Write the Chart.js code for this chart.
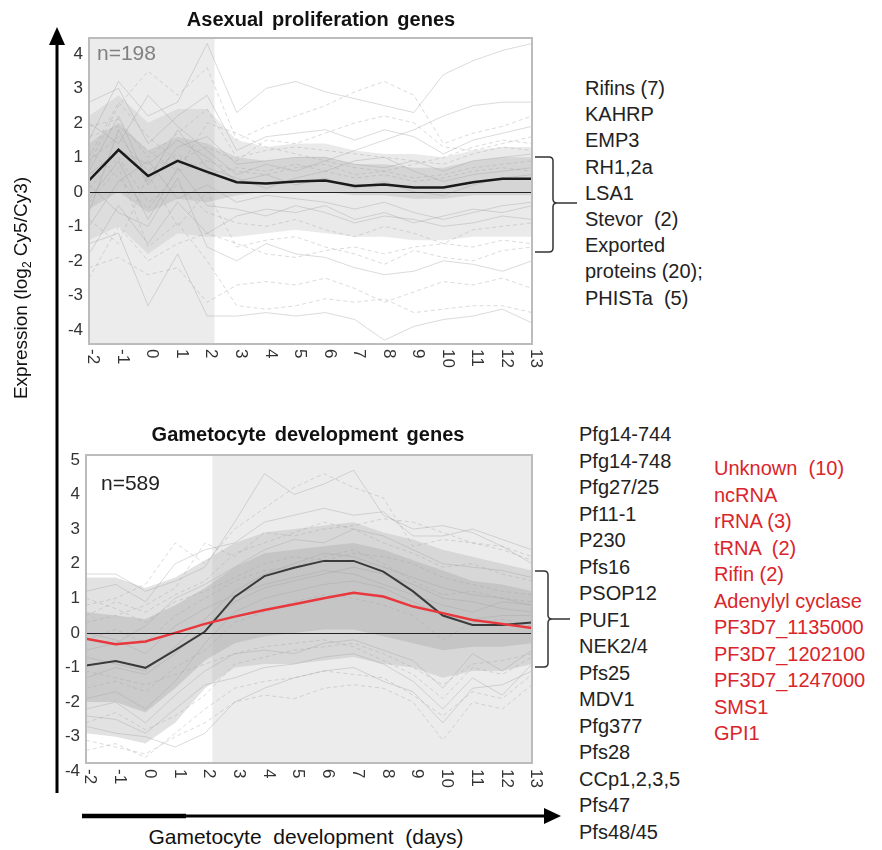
<!DOCTYPE html>
<html>
<head>
<meta charset="utf-8">
<script src="https://cdn.jsdelivr.net/npm/chart.js@4.4.0/dist/chart.umd.min.js"></script>
<style>
  body { margin: 0; background: #fff; font-family: "Liberation Sans", Arial, sans-serif; }
  #page { position: relative; width: 882px; height: 850px; overflow: hidden; }
  .wrap { position: absolute; }
  .title { position: absolute; font-weight: bold; font-size: 20px; color: #111; white-space: pre; word-spacing: 3px; transform: translateX(-50%); }
  .count { position: absolute; font-size: 21px; }
  .list { position: absolute; font-size: 20px; color: #222; white-space: pre; }
  #ylab { position: absolute; left: 22px; top: 288px; font-size: 19px; color: #111; white-space: nowrap; transform: translate(-50%, -50%) rotate(-90deg); }
  #xlab { position: absolute; left: 306px; top: 825px; font-size: 21px; color: #111; white-space: pre; transform: translateX(-50%); }
  sub { font-size: 12px; }
  svg { position: absolute; left: 0; top: 0; }
</style>
</head>
<body>
<div id="page">
  <div class="wrap" style="left:0;top:0;width:560px;height:400px"><canvas id="asexualChart"></canvas></div>
  <div class="wrap" style="left:0;top:400px;width:560px;height:420px"><canvas id="gametocyteChart"></canvas></div>

  <div class="title" style="left:321px;top:8px">Asexual proliferation genes</div>
  <div class="title" style="left:308px;top:423px">Gametocyte development genes</div>
  <div class="count" style="left:97px;top:41px;color:#808080">n=198</div>
  <div class="count" style="left:101px;top:471px;color:#222">n=589</div>

  <div id="ylab">Expression (log<sub>2</sub> Cy5/Cy3)</div>
  <div id="xlab">Gametocyte  development  (days)</div>

  <div class="list" id="asexualList" style="left:585px;top:75px;line-height:26.2px"></div>
  <div class="list" id="gametoList" style="left:579px;top:421px;line-height:26.5px"></div>
  <div class="list" id="redList" style="left:714px;top:455px;line-height:26.5px;color:#d9252b"></div>

  <svg width="882" height="850">
    <!-- axis arrows -->
    <line x1="57" y1="40" x2="57" y2="793" stroke="#000" stroke-width="3"/>
    <polygon points="57,27 49,45 65,45" fill="#000"/>
    <line x1="82" y1="816" x2="186" y2="816" stroke="#000" stroke-width="4.5"/>
    <line x1="186" y1="816" x2="548" y2="816" stroke="#000" stroke-width="3"/>
    <polygon points="561,816 544,808 544,824" fill="#000"/>
    <!-- braces -->
    <path d="M535,157 L549,157 Q553,157 553,161 L553,199 Q553,203 557,203 L577,203 M557,203 Q553,203 553,207 L553,248 Q553,252 549,252 L535,252"
          fill="none" stroke="#333" stroke-width="1.5"/>
    <path d="M535,571 L544,571 Q548,571 548,575 L548,615 Q548,619 552,619 L570,619 M552,619 Q548,619 548,623 L548,663 Q548,667 544,667 L535,667"
          fill="none" stroke="#333" stroke-width="1.5"/>
  </svg>
</div>

<script>
// ---------- data ----------
const days = [-2, -1, 0, 1, 2, 3, 4, 5, 6, 7, 8, 9, 10, 11, 12, 13];
const dayLabels = ['-2', '-1', '0', '1', '2', '3', '4', '5', '6', '7', '8', '9', '10', '11', '12', '13'];
const asexualTicks = [-4, -3, -2, -1, 0, 1, 2, 3, 4];
const gametoTicks = [-4, -3, -2, -1, 0, 1, 2, 3, 4, 5];

const asexualGenes = ['Rifins (7)', 'KAHRP', 'EMP3', 'RH1,2a', 'LSA1', 'Stevor  (2)', 'Exported', 'proteins (20);', 'PHISTa  (5)'];
const gametoGenes = ['Pfg14-744', 'Pfg14-748', 'Pfg27/25', 'Pf11-1', 'P230', 'Pfs16', 'PSOP12', 'PUF1', 'NEK2/4',
  'Pfs25', 'MDV1', 'Pfg377', 'Pfs28', 'CCp1,2,3,5', 'Pfs47', 'Pfs48/45'];
const otherGenes = ['Unknown  (10)', 'ncRNA', 'rRNA (3)', 'tRNA  (2)', 'Rifin (2)', 'Adenylyl cyclase',
  'PF3D7_1135000', 'PF3D7_1202100', 'PF3D7_1247000', 'SMS1', 'GPI1'];

// asexual cluster: average profile, spread of the bulk, and individual genes
const asexualMean = [0.33, 1.22, 0.46, 0.9, 0.58, 0.28, 0.24, 0.3, 0.33, 0.17, 0.21, 0.13, 0.13, 0.28, 0.38, 0.38];
const asexualOuterHi = [2.2, 2.8, 2.0, 2.4, 2.4, 1.5, 1.3, 1.4, 1.4, 1.2, 1.1, 1.1, 1.0, 1.2, 1.3, 1.3];
const asexualOuterLo = [-1.4, -1.0, -1.8, -1.2, -1.3, -1.3, -1.2, -1.1, -1.2, -1.3, -1.3, -1.4, -1.4, -1.3, -1.3, -1.3];
const asexualInnerHi = [1.4, 2.0, 1.2, 1.6, 1.4, 1.0, 0.9, 1.0, 1.0, 0.8, 0.8, 0.7, 0.7, 0.9, 1.0, 1.0];
const asexualInnerLo = [-0.5, 0.0, -0.6, -0.2, -0.3, -0.1, 0.0, 0.0, 0.0, -0.1, -0.1, -0.2, -0.2, -0.1, -0.1, -0.1];
const asexualGenesExpr = [
  [1.5, 3.2, 2.2, 2.6, 4.3, 2.3, 3.0, 3.2, 2.9, 2.7, 2.5, 2.3, 3.4, 3.8, 4.1, 4.3],
  [0.8, 2.5, 3.5, 2.8, 3.6, 1.5, 1.9, 2.2, 2.5, 2.9, 3.2, 2.8, 1.4, 1.7, 1.9, 2.2],
  [2.6, 3.0, 1.4, 2.2, 2.8, 1.2, 1.6, 1.7, 1.8, 1.5, 1.8, 1.6, 1.1, 1.5, 1.7, 1.9],
  [1.9, 2.1, 1.0, 1.7, 2.4, 1.0, 1.2, 1.3, 1.2, 1.1, 1.0, 0.9, 0.8, 1.1, 1.3, 1.2],
  [-0.6, 1.8, 0.2, 1.3, 1.6, 0.8, 0.9, 1.0, 1.0, 0.8, 0.7, 0.9, 0.6, 0.9, 1.0, 1.1],
  [1.2, 0.4, -0.5, 0.6, 0.9, 0.6, 0.5, 0.7, 0.8, 0.5, 0.6, 0.4, 0.5, 0.7, 0.8, 0.9],
  [-1.8, -0.4, -1.5, -0.3, -1.2, -0.7, -0.5, -0.6, -0.4, -0.8, -0.6, -0.9, -0.7, -0.5, -0.6, -0.4],
  [-2.2, -1.9, -2.4, -2.2, -3.2, -2.7, -2.6, -2.7, -2.5, -2.8, -3.2, -2.9, -2.6, -2.7, -2.5, -2.8],
  [-1.5, -1.2, -3.3, -1.8, -3.6, -3.6, -3.5, -3.6, -3.5, -3.7, -4.3, -3.9, -3.7, -3.6, -3.4, -3.8],
  [-0.3, 0.7, -1.6, -0.9, -2.0, -3.3, -3.4, -3.3, -3.1, -3.2, -3.1, -3.5, -3.4, -3.3, -3.3, -3.5],
  [0.2, -0.6, -1.0, 0.4, -1.6, -2.0, -1.5, -1.8, -1.9, -2.2, -2.4, -2.3, -2.0, -2.1, -2.3, -2.0],
  [-2.5, -1.0, -2.0, -1.5, -1.2, -1.5, -1.8, -1.9, -1.7, -1.6, -1.8, -1.6, -1.5, -1.6, -1.4, -1.5],
  [0.5, 1.2, 0.8, 1.5, 1.0, 0.3, 0.5, 0.2, 0.4, 0.1, 0.3, 0.0, -0.1, 0.2, 0.4, 0.5],
  [1.0, 2.6, 1.6, 0.9, 1.3, 0.9, 1.5, 1.4, 1.7, 2.0, 2.2, 2.0, 1.3, 1.2, 1.4, 1.6],
  [-1.0, 0.3, 0.9, -0.2, 0.2, -0.3, -0.1, -0.2, -0.3, -0.5, -0.3, -0.6, -0.8, -0.6, -0.4, -0.3],
  [0.1, 1.0, -0.3, 0.2, -0.6, -0.9, -1.0, -0.8, -1.1, -1.3, -1.0, -1.2, -1.5, -1.1, -1.0, -0.9],
  [2.0, 1.4, 2.8, 1.9, 1.2, 0.5, 0.8, 0.6, 0.9, 1.2, 1.5, 1.8, 2.2, 2.5, 2.6, 2.6],
  [-0.8, -1.5, 0.5, -1.0, 0.0, -1.6, -1.4, -1.3, -1.6, -1.8, -2.1, -1.7, -1.9, -2.0, -1.7, -1.6],
  [0.6, 2.2, 0.3, 1.8, 0.7, 0.4, 0.1, 0.4, 0.6, 0.9, 1.0, 0.6, 0.3, 0.5, 0.6, 0.7],
  [1.6, 1.9, 1.2, 0.6, 2.0, 1.7, 1.3, 1.1, 0.9, 0.7, 0.6, 0.8, 1.0, 1.3, 1.5, 1.4],
  [-0.2, 0.9, -0.8, 0.7, -0.4, -0.5, -0.7, -0.4, -0.6, -0.9, -0.7, -0.8, -1.0, -0.9, -0.7, -0.8],
  [0.9, 1.6, 0.6, 1.1, 0.5, 0.7, 0.6, 0.8, 0.6, 0.4, 0.5, 0.3, 0.4, 0.6, 0.7, 0.6]
];

// gametocyte cluster
const gametoMean = [-0.94, -0.81, -1.01, -0.5, 0.04, 1.04, 1.64, 1.88, 2.08, 2.08, 1.77, 1.2, 0.5, 0.23, 0.23, 0.3];
const gametoOtherMean = [-0.17, -0.33, -0.25, 0.0, 0.26, 0.47, 0.66, 0.83, 1.0, 1.16, 1.05, 0.76, 0.57, 0.37, 0.26, 0.14];
const gametoOuterHi = [1.6, 1.6, 1.3, 1.6, 2.1, 2.6, 2.9, 3.0, 3.1, 3.2, 2.9, 2.7, 2.4, 2.2, 2.0, 1.8];
const gametoOuterLo = [-2.9, -3.0, -3.2, -2.6, -1.6, -1.0, -0.9, -0.9, -0.8, -0.7, -0.9, -1.0, -1.3, -1.1, -1.1, -0.9];
const gametoInnerHi = [0.6, 0.5, 0.4, 0.8, 1.3, 1.9, 2.3, 2.4, 2.5, 2.6, 2.4, 2.1, 1.8, 1.5, 1.4, 1.2];
const gametoInnerLo = [-2.0, -2.0, -2.3, -1.6, -0.8, -0.3, -0.1, 0.0, 0.1, 0.1, -0.1, -0.3, -0.5, -0.4, -0.4, -0.3];
const gametoGenesExpr = [
  [1.7, 1.7, 1.2, 1.5, 1.9, 3.2, 4.6, 4.0, 4.3, 4.7, 3.4, 3.0, 3.1, 2.9, 2.5, 2.0],
  [0.8, 1.0, 1.4, 2.6, 2.0, 3.0, 3.6, 4.2, 4.6, 4.2, 3.9, 2.5, 2.7, 2.6, 2.5, 2.2],
  [1.2, 1.4, 0.9, 2.0, 2.4, 2.6, 3.2, 3.4, 3.6, 3.4, 3.5, 2.8, 2.8, 3.0, 2.7, 2.4],
  [0.3, 0.5, 0.8, 1.3, 2.6, 2.2, 2.9, 2.8, 3.0, 3.1, 3.3, 3.2, 2.9, 2.6, 2.4, 2.1],
  [-0.5, -0.3, 0.2, 1.0, 1.4, 1.9, 2.4, 2.7, 2.6, 3.0, 2.8, 2.4, 2.0, 1.9, 1.8, 1.6],
  [-1.6, -1.4, -1.7, -1.0, -0.5, 0.3, 0.6, 0.9, 1.1, 1.0, 0.8, 0.5, -0.2, 0.3, 0.4, 0.2],
  [-2.4, -2.5, -2.9, -2.2, -1.5, -1.3, -1.0, -0.9, -0.7, -0.6, -0.9, -1.4, -2.2, -1.3, -1.8, -0.9],
  [-3.1, -3.3, -3.5, -3.0, -2.6, -2.0, -1.8, -1.9, -1.6, -1.5, -1.6, -2.0, -3.1, -2.0, -2.2, -1.5],
  [-2.7, -2.9, -3.0, -3.3, -2.9, -2.0, -1.6, -1.3, -1.1, -1.0, -1.4, -1.7, -2.6, -1.6, -1.5, -1.1],
  [-1.1, -1.3, -1.5, -1.2, -0.9, -0.6, -0.4, -0.3, -0.2, -0.4, -0.8, -1.2, -1.9, -1.0, -1.2, -0.7],
  [0.0, -0.2, -0.6, 0.2, 0.7, 1.1, 1.4, 1.6, 1.8, 1.7, 1.4, 1.1, 0.8, 0.6, 0.9, 0.8],
  [1.0, 0.7, 0.3, 0.9, 1.2, 1.6, 2.0, 2.2, 2.1, 2.3, 2.2, 2.0, 1.6, 1.4, 1.2, 1.1],
  [-1.9, -1.7, -2.2, -1.4, -0.3, 0.6, 1.0, 1.2, 1.4, 1.5, 1.3, 0.9, 0.5, 0.4, 0.5, 0.5],
  [-0.2, 0.1, -0.3, 0.5, 1.0, 1.5, 1.8, 1.9, 2.2, 2.4, 2.0, 1.5, 1.1, 1.2, 1.0, 0.9],
  [-2.2, -2.0, -2.6, -1.8, -1.1, -0.6, -0.5, -0.6, -0.3, -0.2, -0.5, -0.8, -1.6, -0.6, -1.1, -0.5],
  [0.5, 0.9, 0.6, 1.1, 1.5, 2.3, 2.6, 2.9, 3.2, 3.0, 2.6, 2.3, 1.9, 2.0, 1.7, 1.5],
  [-1.3, -1.0, -1.2, -0.6, 0.2, 0.9, 1.3, 1.5, 1.7, 1.9, 1.7, 1.4, 1.0, 0.9, 0.7, 0.6],
  [-3.4, -3.2, -3.6, -2.9, -2.2, -1.6, -1.4, -1.3, -1.1, -1.2, -1.3, -1.8, -2.4, -1.7, -1.9, -1.2],
  [-0.7, -0.9, -1.1, -0.4, 0.4, 1.2, 1.7, 2.0, 2.3, 2.2, 1.9, 1.6, 1.3, 1.1, 1.0, 0.8],
  [-2.6, -2.3, -2.8, -2.4, -1.8, -0.9, -0.7, -0.5, -0.4, -0.3, -0.6, -1.0, -1.5, -0.9, -0.8, -0.6]
];

// ---------- text lists ----------
document.getElementById('asexualList').textContent = asexualGenes.join('\n');
document.getElementById('gametoList').textContent = gametoGenes.join('\n');
document.getElementById('redList').textContent = otherGenes.join('\n');

// ---------- helpers ----------
const FONT = '"Liberation Sans", Arial, sans-serif';
const pts = vals => days.map((d, i) => ({ x: d, y: vals[i] }));

function meanLine(vals, color, width) {
  return { data: pts(vals), borderColor: color, borderWidth: width, pointRadius: 0, tension: 0, fill: false };
}

function geneLines(rows) {
  return rows.map((vals, i) => ({
    data: pts(vals),
    borderColor: 'rgba(165,165,165,0.4)',
    borderWidth: 1,
    borderDash: i % 2 ? [4, 3] : [],
    pointRadius: 0,
    fill: false
  }));
}

function band(lo, hi, color) {
  return [
    { data: pts(lo), borderWidth: 0, pointRadius: 0, fill: false },
    { data: pts(hi), borderWidth: 0, pointRadius: 0, fill: '-1', backgroundColor: color }
  ];
}

// shaded time window, zero line, plot frame and rotated day labels
const framePlugin = {
  id: 'frame',
  beforeDatasetsDraw(chart, args, opts) {
    const { ctx, chartArea: a, scales: { x } } = chart;
    const x0 = Math.max(a.left, x.getPixelForValue(opts.shadeFrom));
    const x1 = Math.min(a.right, x.getPixelForValue(opts.shadeTo));
    ctx.save();
    ctx.fillStyle = '#ececec';
    ctx.fillRect(x0, a.top, x1 - x0, a.bottom - a.top);
    ctx.restore();
  },
  afterDatasetsDraw(chart, args, opts) {
    const { ctx, chartArea: a, scales: { x, y } } = chart;
    ctx.save();
    const y0 = Math.round(y.getPixelForValue(0)) + 0.5;
    ctx.strokeStyle = '#222';
    ctx.lineWidth = 1;
    ctx.beginPath();
    ctx.moveTo(a.left, y0);
    ctx.lineTo(a.right, y0);
    ctx.stroke();

    ctx.strokeStyle = '#bcbcbc';
    ctx.lineWidth = 2;
    ctx.strokeRect(a.left, a.top, a.right - a.left, a.bottom - a.top);

    ctx.fillStyle = '#333';
    ctx.font = '17px ' + FONT;
    ctx.textAlign = 'left';
    ctx.textBaseline = 'middle';
    days.forEach((d, i) => {
      ctx.save();
      ctx.translate(x.getPixelForValue(d) + opts.labelShift, a.bottom + opts.labelGap);
      ctx.rotate(Math.PI / 2);
      ctx.fillText(dayLabels[i], 0, 0);
      ctx.restore();
    });
    ctx.restore();
  }
};

function makeOptions(yMin, yMax, yTicks, pad, frame) {
  return {
    responsive: true,
    maintainAspectRatio: false,
    animation: false,
    layout: { padding: pad },
    plugins: { legend: { display: false }, tooltip: { enabled: false }, frame: frame },
    scales: {
      x: { type: 'linear', min: -2, max: 13, display: false },
      y: {
        min: yMin,
        max: yMax,
        grid: { display: false, drawTicks: false },
        border: { display: false },
        afterBuildTicks: scale => { scale.ticks = yTicks.map(v => ({ value: v })); },
        afterFit: scale => { scale.width = 31; },
        ticks: { color: '#333', padding: 6, font: { size: 17, family: FONT }, autoSkip: false }
      }
    }
  };
}

// ---------- asexual proliferation chart ----------
new Chart(document.getElementById('asexualChart'), {
  type: 'line',
  data: {
    datasets: [
      meanLine(asexualMean, '#1a1a1a', 2.5),
      ...geneLines(asexualGenesExpr),
      ...band(asexualInnerLo, asexualInnerHi, 'rgba(175,175,175,0.35)'),
      ...band(asexualOuterLo, asexualOuterHi, 'rgba(195,195,195,0.35)')
    ]
  },
  options: makeOptions(-4.41, 4.46, asexualTicks,
    { left: 58, top: 38, right: 28, bottom: 56 },
    { shadeFrom: -2, shadeTo: 2.25, labelShift: 4, labelGap: 5 }),
  plugins: [framePlugin]
});

// ---------- gametocyte development chart ----------
new Chart(document.getElementById('gametocyteChart'), {
  type: 'line',
  data: {
    datasets: [
      meanLine(gametoOtherMean, '#e8383d', 2.5),
      meanLine(gametoMean, '#3a3a3a', 2),
      ...geneLines(gametoGenesExpr),
      ...band(gametoInnerLo, gametoInnerHi, 'rgba(170,170,170,0.4)'),
      ...band(gametoOuterLo, gametoOuterHi, 'rgba(190,190,190,0.45)')
    ]
  },
  options: makeOptions(-3.76, 5.14, gametoTicks,
    { left: 55, top: 55, right: 28, bottom: 57 },
    { shadeFrom: 2.25, shadeTo: 13, labelShift: 4, labelGap: 6 }),
  plugins: [framePlugin]
});
</script>
</body>
</html>
